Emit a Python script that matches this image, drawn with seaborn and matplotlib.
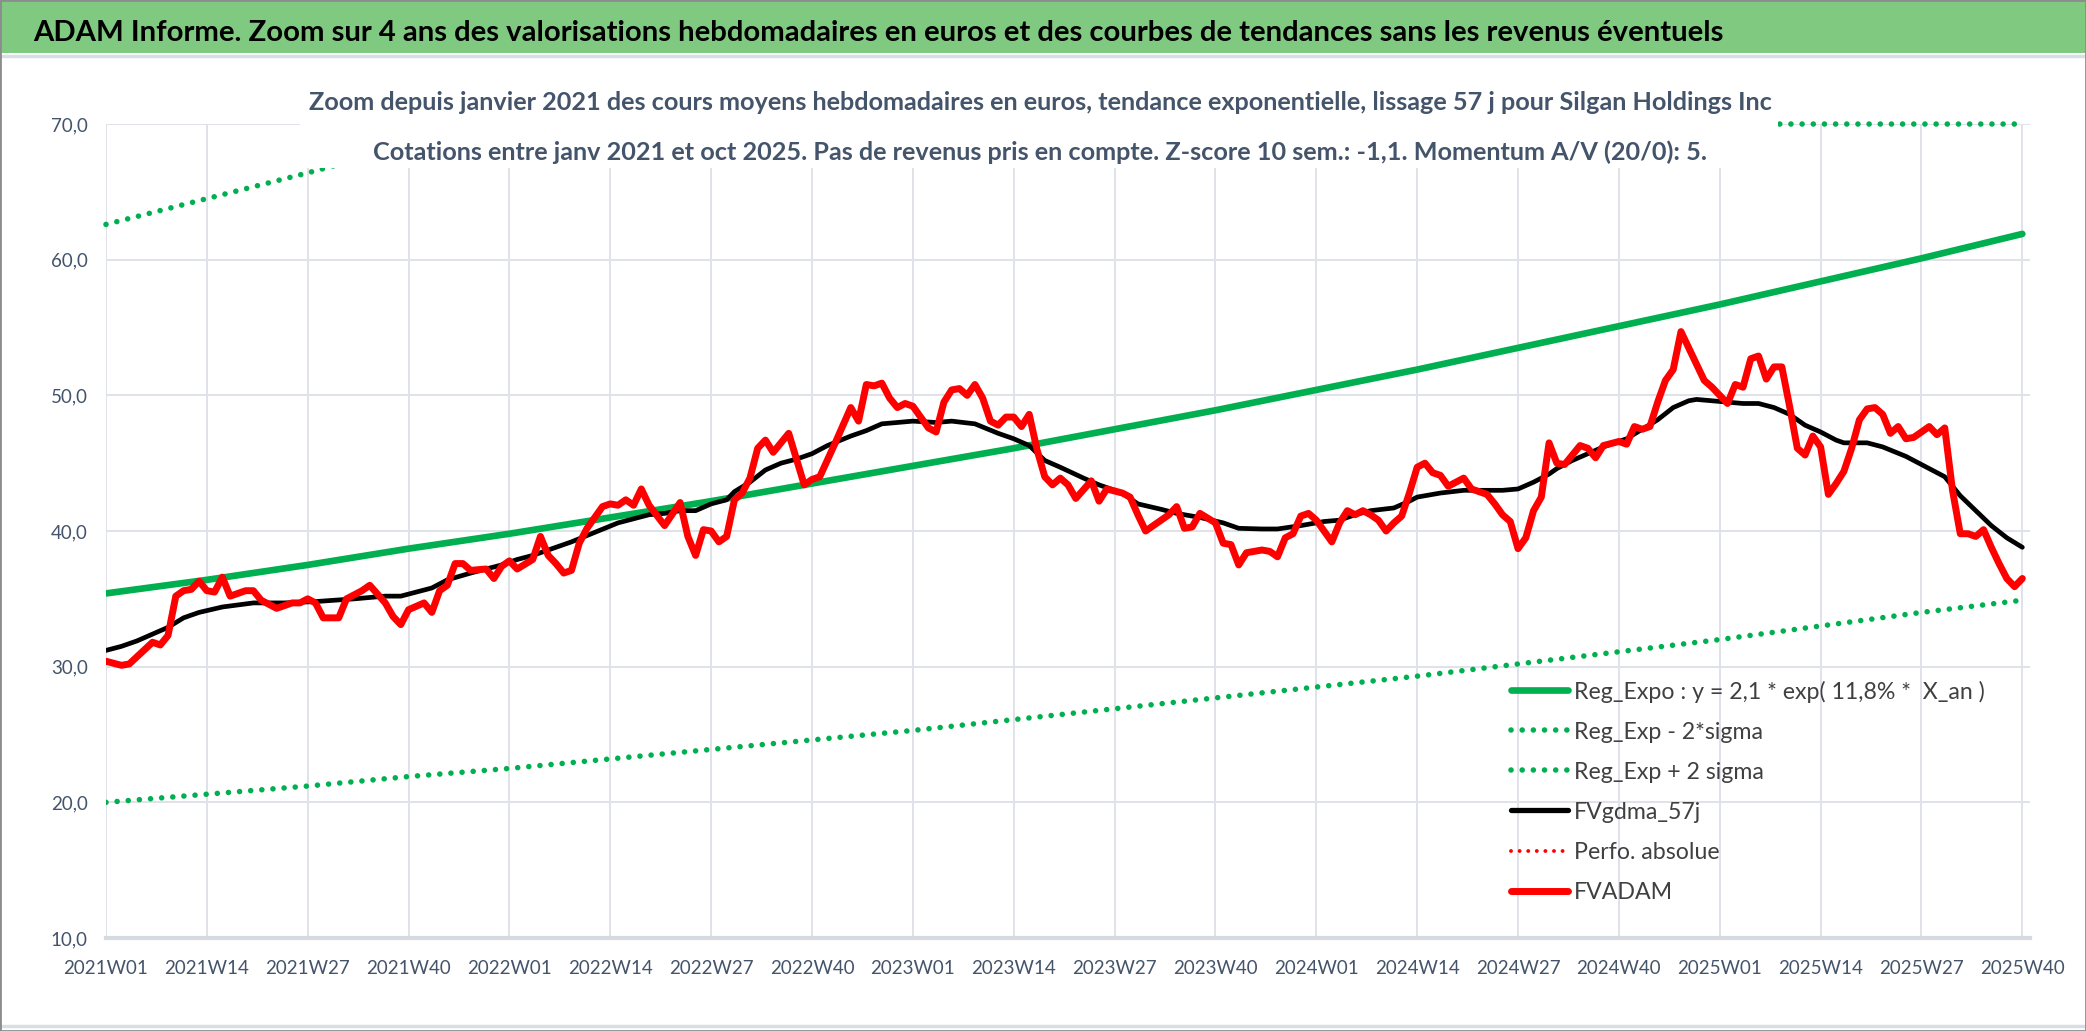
import matplotlib
matplotlib.use("Agg")
import matplotlib.pyplot as plt
from matplotlib.lines import Line2D
from matplotlib.patches import Rectangle
import pandas as pd
import seaborn as sns

# x axis labels (one every 13 weeks)
week_labels = ["2021W01", "2021W14", "2021W27", "2021W40", "2022W01", "2022W14", "2022W27",
               "2022W40", "2023W01", "2023W14", "2023W27", "2023W40", "2024W01", "2024W14",
               "2024W27", "2024W40", "2025W01", "2025W14", "2025W27", "2025W40"]
tick_weeks = [0, 13, 26, 39, 52, 65, 78, 91, 104, 117, 130, 143, 156, 169, 182, 195, 208, 221, 234, 247]

# trend lines read at each labelled week
reg_expo = [35.4, 36.4, 37.5, 38.7, 39.8, 41.0, 42.2, 43.5, 44.8, 46.1,
            47.5, 48.9, 50.4, 51.9, 53.5, 55.1, 56.7, 58.4, 60.1, 61.9]
reg_low = [20.0, 20.6, 21.2, 21.9, 22.5, 23.2, 23.9, 24.6, 25.3, 26.1,
           26.9, 27.7, 28.5, 29.3, 30.2, 31.1, 32.0, 33.0, 34.0, 34.9]
# upper band: pinned to the top of the axis once above 70
reg_high = [62.6, 64.5, 66.4, 68.4, 70.0, 70.0, 70.0, 70.0, 70.0, 70.0,
            70.0, 70.0, 70.0, 70.0, 70.0, 70.0, 70.0, 70.0, 70.0, 70.0]

# FVADAM weekly valuation (week index from 2021W01)
red_weeks = [0, 2, 3, 6, 7, 8, 9, 10, 11, 12, 13, 14, 15, 16, 18, 19, 20, 22, 24, 25, 26, 27, 28, 30,
             31, 33, 34, 36, 37, 38, 39, 41, 42, 43, 44, 45, 46, 47, 49, 50, 51, 52, 53, 55, 56, 57,
             58, 59, 60, 61, 62, 64, 65, 66, 67, 68, 69, 70, 72, 74, 75, 76, 77, 78, 79, 80, 81, 82,
             83, 84, 85, 86, 87, 88, 90, 91, 92, 94, 96, 97, 98, 99, 100, 101, 102, 103, 104, 105,
             106, 107, 108, 109, 110, 111, 112, 113, 114, 115, 116, 117, 118, 119, 120, 121, 122,
             123, 124, 125, 127, 128, 129, 131, 132, 133, 134, 136, 137, 138, 139, 140, 141, 143,
             144, 145, 146, 147, 149, 150, 151, 152, 153, 154, 155, 156, 157, 158, 159, 160, 161,
             162, 163, 164, 165, 166, 167, 168, 169, 170, 171, 172, 173, 175, 176, 178, 179, 180,
             181, 182, 183, 184, 185, 186, 187, 188, 190, 191, 192, 193, 195, 196, 197, 198, 199,
             200, 201, 202, 203, 204, 205, 206, 207, 208, 209, 210, 211, 212, 213, 214, 215, 216,
             217, 218, 219, 220, 221, 222, 223, 224, 225, 226, 227, 228, 229, 230, 231, 232, 233,
             235, 236, 237, 238, 239, 240, 241, 242, 243, 244, 245, 246, 247]
red_vals = [30.4, 30.1, 30.2, 31.8, 31.6, 32.3, 35.2, 35.6, 35.7, 36.3, 35.6, 35.5, 36.6, 35.2, 35.6,
            35.6, 34.9, 34.3, 34.7, 34.7, 35.0, 34.7, 33.6, 33.6, 35.0, 35.6, 36.0, 34.7, 33.7, 33.1,
            34.2, 34.7, 34.0, 35.6, 36.0, 37.6, 37.6, 37.1, 37.2, 36.5, 37.4, 37.8, 37.2, 37.9, 39.6,
            38.2, 37.6, 36.9, 37.1, 39.1, 40.2, 41.8, 42.0, 41.9, 42.3, 41.9, 43.1, 41.9, 40.4, 42.1,
            39.6, 38.2, 40.1, 40.0, 39.2, 39.6, 42.3, 42.8, 43.9, 46.1, 46.7, 45.8, 46.5, 47.2, 43.4,
            43.8, 44.0, 46.5, 49.1, 48.1, 50.8, 50.7, 50.9, 49.8, 49.1, 49.4, 49.2, 48.4, 47.6, 47.3,
            49.5, 50.4, 50.5, 50.0, 50.8, 49.8, 48.1, 47.8, 48.4, 48.4, 47.7, 48.6, 46.0, 44.0, 43.4,
            43.9, 43.4, 42.4, 43.7, 42.2, 43.1, 42.8, 42.5, 41.2, 40.0, 40.8, 41.2, 41.8, 40.2, 40.3,
            41.3, 40.6, 39.1, 39.0, 37.5, 38.4, 38.6, 38.5, 38.1, 39.5, 39.8, 41.1, 41.3, 40.8, 40.0,
            39.2, 40.6, 41.5, 41.2, 41.5, 41.2, 40.8, 40.0, 40.6, 41.1, 42.8, 44.7, 45.0, 44.3, 44.1,
            43.3, 43.9, 43.1, 42.7, 42.0, 41.2, 40.7, 38.7, 39.5, 41.5, 42.5, 46.5, 45.0, 44.9, 46.3,
            46.1, 45.4, 46.3, 46.6, 46.4, 47.7, 47.5, 47.7, 49.5, 51.1, 51.9, 54.7, 53.5, 52.3, 51.1,
            50.6, 50.0, 49.4, 50.8, 50.6, 52.7, 52.9, 51.2, 52.1, 52.1, 49.2, 46.1, 45.6, 47.0, 46.2,
            42.7, 43.5, 44.4, 46.1, 48.2, 49.0, 49.1, 48.6, 47.2, 47.7, 46.8, 46.9, 47.7, 47.1, 47.6,
            43.0, 39.8, 39.8, 39.6, 40.1, 38.8, 37.6, 36.5, 35.9, 36.5]

# FVgdma_57j smoothed curve
black_weeks = [0, 2, 4, 6, 8, 10, 12, 15, 19, 23, 27, 32, 36, 38, 40, 42, 44, 47, 49, 51, 53, 55, 57,
               60, 63, 66, 68, 70, 72, 74, 76, 78, 80, 81, 83, 85, 87, 89, 91, 93, 96, 98, 100, 102,
               104, 107, 109, 112, 115, 117, 119, 121, 123, 126, 128, 131, 133, 136, 138, 141, 144,
               146, 149, 151, 154, 157, 159, 161, 163, 166, 168, 169, 172, 175, 177, 180, 182, 184,
               186, 187, 189, 191, 193, 196, 198, 200, 202, 204, 205, 207, 209, 211, 213, 215, 217,
               219, 221, 223, 224, 227, 229, 232, 234, 237, 239, 241, 243, 245, 247]
black_vals = [31.2, 31.5, 31.9, 32.4, 32.9, 33.6, 34.0, 34.4, 34.7, 34.7, 34.8, 35.0, 35.2, 35.2, 35.5,
              35.8, 36.4, 36.9, 37.2, 37.5, 37.9, 38.2, 38.6, 39.2, 39.9, 40.6, 40.9, 41.2, 41.3, 41.5,
              41.5, 42.0, 42.3, 42.9, 43.6, 44.5, 45.0, 45.3, 45.7, 46.3, 47.0, 47.4, 47.9, 48.0, 48.1,
              48.0, 48.1, 47.9, 47.2, 46.8, 46.3, 45.2, 44.7, 43.9, 43.4, 42.8, 42.0, 41.6, 41.3, 41.0,
              40.6, 40.2, 40.15, 40.15, 40.4, 40.7, 40.8, 41.2, 41.5, 41.7, 42.2, 42.5, 42.8, 43.0,
              43.0, 43.0, 43.1, 43.6, 44.2, 44.6, 45.2, 45.7, 46.2, 46.8, 47.5, 48.2, 49.1, 49.6, 49.7,
              49.6, 49.5, 49.4, 49.4, 49.1, 48.6, 47.8, 47.3, 46.7, 46.5, 46.5, 46.2, 45.5, 44.9, 44.0,
              42.6, 41.5, 40.4, 39.5, 38.8]

title = ("ADAM Informe. Zoom sur 4 ans des valorisations hebdomadaires en euros "
         "et des courbes de tendances sans les revenus éventuels")
sub1 = ("Zoom depuis janvier 2021 des cours moyens hebdomadaires en euros, tendance "
        "exponentielle, lissage 57 j pour Silgan Holdings Inc")
sub2 = ("Cotations entre janv 2021 et oct 2025. Pas de revenus pris en compte. "
        "Z-score 10 sem.: -1,1. Momentum A/V (20/0): 5.")

sns.set_theme(style="white")
plt.rcParams['font.family'] = ['Lato', 'DejaVu Sans']

GREEN = "#00b050"
RED = "#ff0000"
GRID = "#dfe2e8"
TXT = "#44546a"

trend = pd.DataFrame({"week": tick_weeks, "reg": reg_expo, "low": reg_low, "high": reg_high})
red_df = pd.DataFrame({"week": red_weeks, "val": red_vals})
black_df = pd.DataFrame({"week": black_weeks, "val": black_vals})

fig = plt.figure(figsize=(20.86, 10.31), dpi=100)
ax = fig.add_axes([0.0508, 0.0902, 0.9224, 0.7895])

dots = (0, (0.01, 2.0))
sns.lineplot(data=trend, x="week", y="reg", ax=ax, color=GREEN, lw=4.8, zorder=3)
sns.lineplot(data=trend, x="week", y="low", ax=ax, color=GREEN, lw=4.0, linestyle=dots,
             dash_capstyle="round", zorder=3)
sns.lineplot(data=trend, x="week", y="high", ax=ax, color=GREEN, lw=4.0, linestyle=dots,
             dash_capstyle="round", zorder=3, clip_on=False)
sns.lineplot(data=black_df, x="week", y="val", ax=ax, color="black", lw=3.4, zorder=4,
             solid_joinstyle="round")
sns.lineplot(data=red_df, x="week", y="val", ax=ax, color=RED, lw=5.0, zorder=5,
             solid_joinstyle="round", solid_capstyle="round")

ax.set_xlim(0, 248)
ax.set_ylim(10, 70)
ax.set_xticks(tick_weeks)
ax.set_xticklabels(week_labels)
ax.set_yticks([10, 20, 30, 40, 50, 60, 70])
ax.set_yticklabels([f"{v:.1f}".replace(".", ",") for v in [10, 20, 30, 40, 50, 60, 70]])
ax.set_xlabel("")
ax.set_ylabel("")
ax.grid(True, color=GRID, lw=1.4)
ax.set_axisbelow(True)
for s in ["top", "right", "left"]:
    ax.spines[s].set_visible(False)
ax.spines["bottom"].set_color("#d5d9e0")
ax.spines["bottom"].set_linewidth(3)
ax.tick_params(axis="x", length=6.5, width=1.4, color=GRID, pad=9, labelsize=13.5, labelcolor=TXT)
ax.tick_params(axis="y", length=0, pad=13, labelsize=13.5, labelcolor=TXT)

handles = [
    Line2D([], [], color=GREEN, lw=4.8),
    Line2D([], [], color=GREEN, lw=4.0, linestyle=dots, dash_capstyle="round"),
    Line2D([], [], color=GREEN, lw=4.0, linestyle=dots, dash_capstyle="round"),
    Line2D([], [], color="black", lw=3.8),
    Line2D([], [], color=RED, lw=2.8, linestyle=(0, (0.01, 2.2)), dash_capstyle="round"),
    Line2D([], [], color=RED, lw=5.0),
]
labels = ["Reg_Expo : y = 2,1 * exp( 11,8% *  X_an )", "Reg_Exp - 2*sigma", "Reg_Exp + 2 sigma",
          "FVgdma_57j", "Perfo. absolue", "FVADAM"]
leg = ax.legend(handles, labels, loc="upper left", bbox_to_anchor=(0.7244, 0.340),
                bbox_transform=fig.transFigure, frameon=False, fontsize=16.7,
                handlelength=2.45, handletextpad=0.25, labelspacing=0.82,
                borderpad=0, borderaxespad=0)
for t in leg.get_texts():
    t.set_color("#404040")

# header banner
fig.add_artist(Rectangle((0, 1 - 53 / 1031), 1, 53 / 1031, transform=fig.transFigure,
                         facecolor="#80c980", edgecolor="none", zorder=1))
fig.add_artist(Line2D([0, 1], [1 - 56 / 1031] * 2, transform=fig.transFigure,
                      color="#d9dde5", lw=2.5, zorder=1))
fig.text(0.0158, 0.9602, title, ha="left", va="baseline", fontsize=21.1,
         fontweight="bold", color="black", zorder=3)

# subtitle box (white, covers the top of the plot)
fig.add_artist(Rectangle((0.1438, 0.837), 0.7085, 0.093, transform=fig.transFigure,
                         facecolor="white", edgecolor="none", zorder=2))
fig.text(0.4986, 0.8933, sub1, ha="center", va="baseline", fontsize=18.2,
         fontweight="bold", color=TXT, zorder=3)
fig.text(0.4986, 0.8450, sub2, ha="center", va="baseline", fontsize=18.2,
         fontweight="bold", color=TXT, zorder=3)

# frame lines
fig.add_artist(Line2D([0, 1], [1 - 1026 / 1031] * 2, transform=fig.transFigure,
                      color="#d9dde5", lw=2.5, zorder=1))
fig.add_artist(Rectangle((0, 0), 1, 1, transform=fig.transFigure, facecolor="none",
                         edgecolor="#8c8c8c", lw=2, zorder=4))

fig.savefig("out.png", dpi=100)
